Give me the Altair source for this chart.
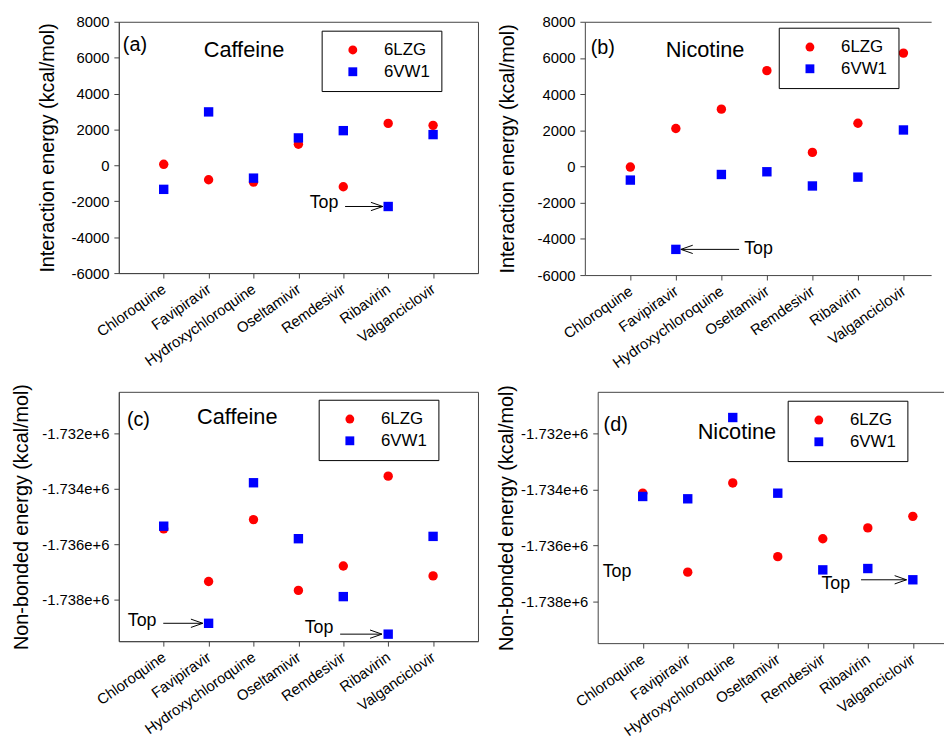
import json
import altair as alt
import pandas as pd

drugs = ["Chloroquine", "Favipiravir", "Hydroxychloroquine", "Oseltamivir",
         "Remdesivir", "Ribavirin", "Valganciclovir"]
series_names = ["6LZG", "6VW1"]
series_colors = ["#ff0000", "#0000ff"]
series_shapes = ["circle", "square"]

# (a) Caffeine – interaction energy
a_6lzg = [60, -800, -930, 1180, -1190, 2340, 2230]
a_6vw1 = [-1335, 2980, -710, 1530, 1935, -2290, 1715]
# (b) Nicotine – interaction energy
b_6lzg = [-30, 2100, 3170, 5300, 780, 2390, 6270]
b_6vw1 = [-750, -4580, -440, -290, -1075, -585, 2020]
# (c) Caffeine – non-bonded energy
c_6lzg = [-1735445, -1737346, -1735113, -1737667, -1736788, -1733544, -1737144]
c_6vw1 = [-1735350, -1738855, -1733782, -1735802, -1737892, -1739247, -1735718]
# (d) Nicotine – non-bonded energy
d_6lzg = [-1734130, -1736958, -1733763, -1736402, -1735763, -1735373, -1734959]
d_6vw1 = [-1734248, -1734331, -1731420, -1734130, -1736876, -1736828, -1737231]

inter_ticks = [-6000, -4000, -2000, 0, 2000, 4000, 6000, 8000]
nb_ticks = [-1738000, -1736000, -1734000, -1732000]

# annotations: (text, x, y, align, size)
a_texts = [("(a)", 0.09, 6676, "left", 20), ("Caffeine", 1.89, 6400, "left", 22),
           ("Top", 4.89, -2090, "right", 18)]
b_texts = [("(b)", 0.13, 6560, "left", 20), ("Nicotine", 1.78, 6450, "left", 22),
           ("Top", 3.5, -4540, "left", 18)]
c_texts = [("(c)", 0.18, -1731537, "left", 20), ("Caffeine", 1.74, -1731394, "left", 22),
           ("Top", 0.84, -1738771, "right", 18), ("Top", 4.78, -1739020, "right", 18)]
d_texts = [("(d)", 0.13, -1731680, "left", 20), ("Nicotine", 2.22, -1731930, "left", 22),
           ("Top", 0.11, -1736970, "left", 18), ("Top", 4.97, -1737396, "left", 18)]
# arrows: (x_start, x_tip, y, angle)
a_arrows = [(5.04, 5.88, -2290, 0)]
b_arrows = [(3.39, 2.11, -4580, 180)]
c_arrows = [(0.99, 1.87, -1738855, 0), (4.93, 5.86, -1739247, 0)]
d_arrows = [(5.85, 6.86, -1737231, 0)]

FONT = "Liberation Sans"
AXC = "#444444"
ARROW = "M-2,-0.7L0,0L-2,0.7"
label_expr = json.dumps(drugs) + "[datum.value - 1]"


def panel(v1, v2, ydom, yticks, ylabel_expr, ytitle, title_pad, texts, arrows,
          xmax, w, h, lx, ly, full_frame):
    df = pd.DataFrame({
        "pos": list(range(1, 8)) * 2,
        "drug": drugs * 2,
        "series": [series_names[0]] * 7 + [series_names[1]] * 7,
        "value": v1 + v2,
    })
    xs = alt.Scale(domain=[0, xmax], nice=False, zero=False)
    ys = alt.Scale(domain=ydom, nice=False, zero=False)
    x_axis = alt.Axis(values=list(range(1, 8)), labelExpr=label_expr, title=None,
                      labelAngle=-35, labelAlign="right", labelBaseline="middle",
                      labelFontSize=15, labelFont=FONT, labelColor="black",
                      tickSize=5, labelPadding=9, tickColor=AXC, domainColor=AXC,
                      grid=False, labelOverlap=False, labelBound=False, labelFlush=False)
    y_axis = alt.Axis(values=yticks, labelExpr=ylabel_expr, title=ytitle,
                      titleFont=FONT, titleFontSize=20, titleFontWeight="normal",
                      titleColor="black", titlePadding=title_pad,
                      labelFontSize=15, labelFont=FONT, labelColor="black",
                      tickSize=5, labelPadding=5, tickColor=AXC, domainColor=AXC,
                      grid=False, labelOverlap=False, labelFlush=False)
    leg = alt.Legend(orient="none", legendX=lx, legendY=ly, title=None,
                     fillColor="white", strokeColor="black", padding=11,
                     symbolOffset=12, labelOffset=23, labelFontSize=17,
                     labelFont=FONT, labelColor="black", symbolSize=80,
                     rowPadding=4, symbolStrokeWidth=0, cornerRadius=0)
    points = alt.Chart(df).mark_point(filled=True, size=90, opacity=1).encode(
        x=alt.X("pos:Q", scale=xs, axis=x_axis),
        y=alt.Y("value:Q", scale=ys, axis=y_axis),
        color=alt.Color("series:N", scale=alt.Scale(domain=series_names, range=series_colors), legend=leg),
        shape=alt.Shape("series:N", scale=alt.Scale(domain=series_names, range=series_shapes), legend=leg),
    )
    adf = pd.DataFrame(arrows, columns=["x0", "x1", "y", "angle"])
    if full_frame:
        top_axis = None
    else:
        top_axis = alt.Axis(orient="top", labels=False, ticks=False, domain=True,
                            domainColor=AXC, title=None, grid=False)
    rules = alt.Chart(adf).mark_rule(color="black", strokeWidth=1).encode(
        x=alt.X("x0:Q", axis=top_axis), x2="x1:Q", y=alt.Y("y:Q", axis=None))
    heads = alt.Chart(adf).mark_point(shape=ARROW, filled=False, size=144, color="black",
                                      opacity=1, strokeWidth=1).encode(
        x=alt.X("x1:Q", axis=None), y=alt.Y("y:Q", axis=None),
        angle=alt.Angle("angle:Q", scale=None))
    tdf = pd.DataFrame(texts, columns=["text", "x", "y", "align", "size"])
    layers = [points, rules, heads]
    for al in ["left", "right"]:
        sub = tdf[tdf["align"] == al]
        if len(sub):
            layers.append(alt.Chart(sub).mark_text(align=al, baseline="middle", font=FONT,
                                                   color="black").encode(
                x=alt.X("x:Q", axis=None), y=alt.Y("y:Q", axis=None),
                text="text:N", size=alt.Size("size:Q", scale=None)))
    ch = alt.layer(*layers).resolve_axis(x="independent", y="independent")
    props = dict(width=w, height=h)
    if not full_frame:
        props["view"] = alt.ViewBackground(stroke=None)
    return ch.properties(**props)


inter_expr = "'' + datum.value"
nb_expr = "'-' + format(-datum.value, '.3e')"

pa = panel(a_6lzg, a_6vw1, [-6000, 8000], inter_ticks, inter_expr,
           "Interaction energy (kcal/mol)", 14, a_texts, a_arrows,
           8, 363, 254, 205, 9, True)
pb = panel(b_6lzg, b_6vw1, [-6000, 8000], inter_ticks, inter_expr,
           "Interaction energy (kcal/mol)", 20, b_texts, b_arrows,
           350 / 46, 350, 256, 196, 6, False)
pc = panel(c_6lzg, c_6vw1, [-1739500, -1730500], nb_ticks, nb_expr,
           "Non-bonded energy (kcal/mol)", 10, c_texts, c_arrows,
           8, 363, 252, 202, 8, True)
pd_ = panel(d_6lzg, d_6vw1, [-1739500, -1730500], nb_ticks, nb_expr,
            "Non-bonded energy (kcal/mol)", 4, d_texts, d_arrows,
            350 / 45.5, 350, 254, 192, 9, False)

top = alt.hconcat(pa, pb, spacing=18).resolve_scale(color="independent", shape="independent").resolve_legend(color="independent", shape="independent")
bottom = alt.hconcat(pc, pd_, spacing=18).resolve_scale(color="independent", shape="independent").resolve_legend(color="independent", shape="independent")
chart = alt.vconcat(top, bottom, spacing=11).resolve_scale(
    color="independent", shape="independent").resolve_legend(
    color="independent", shape="independent").properties(
    padding={"left": 3, "top": 2, "right": 0, "bottom": 0}
).configure(font=FONT).configure_view(stroke=AXC)

chart.save("out.html", embed_options={"renderer": "svg", "actions": False})
